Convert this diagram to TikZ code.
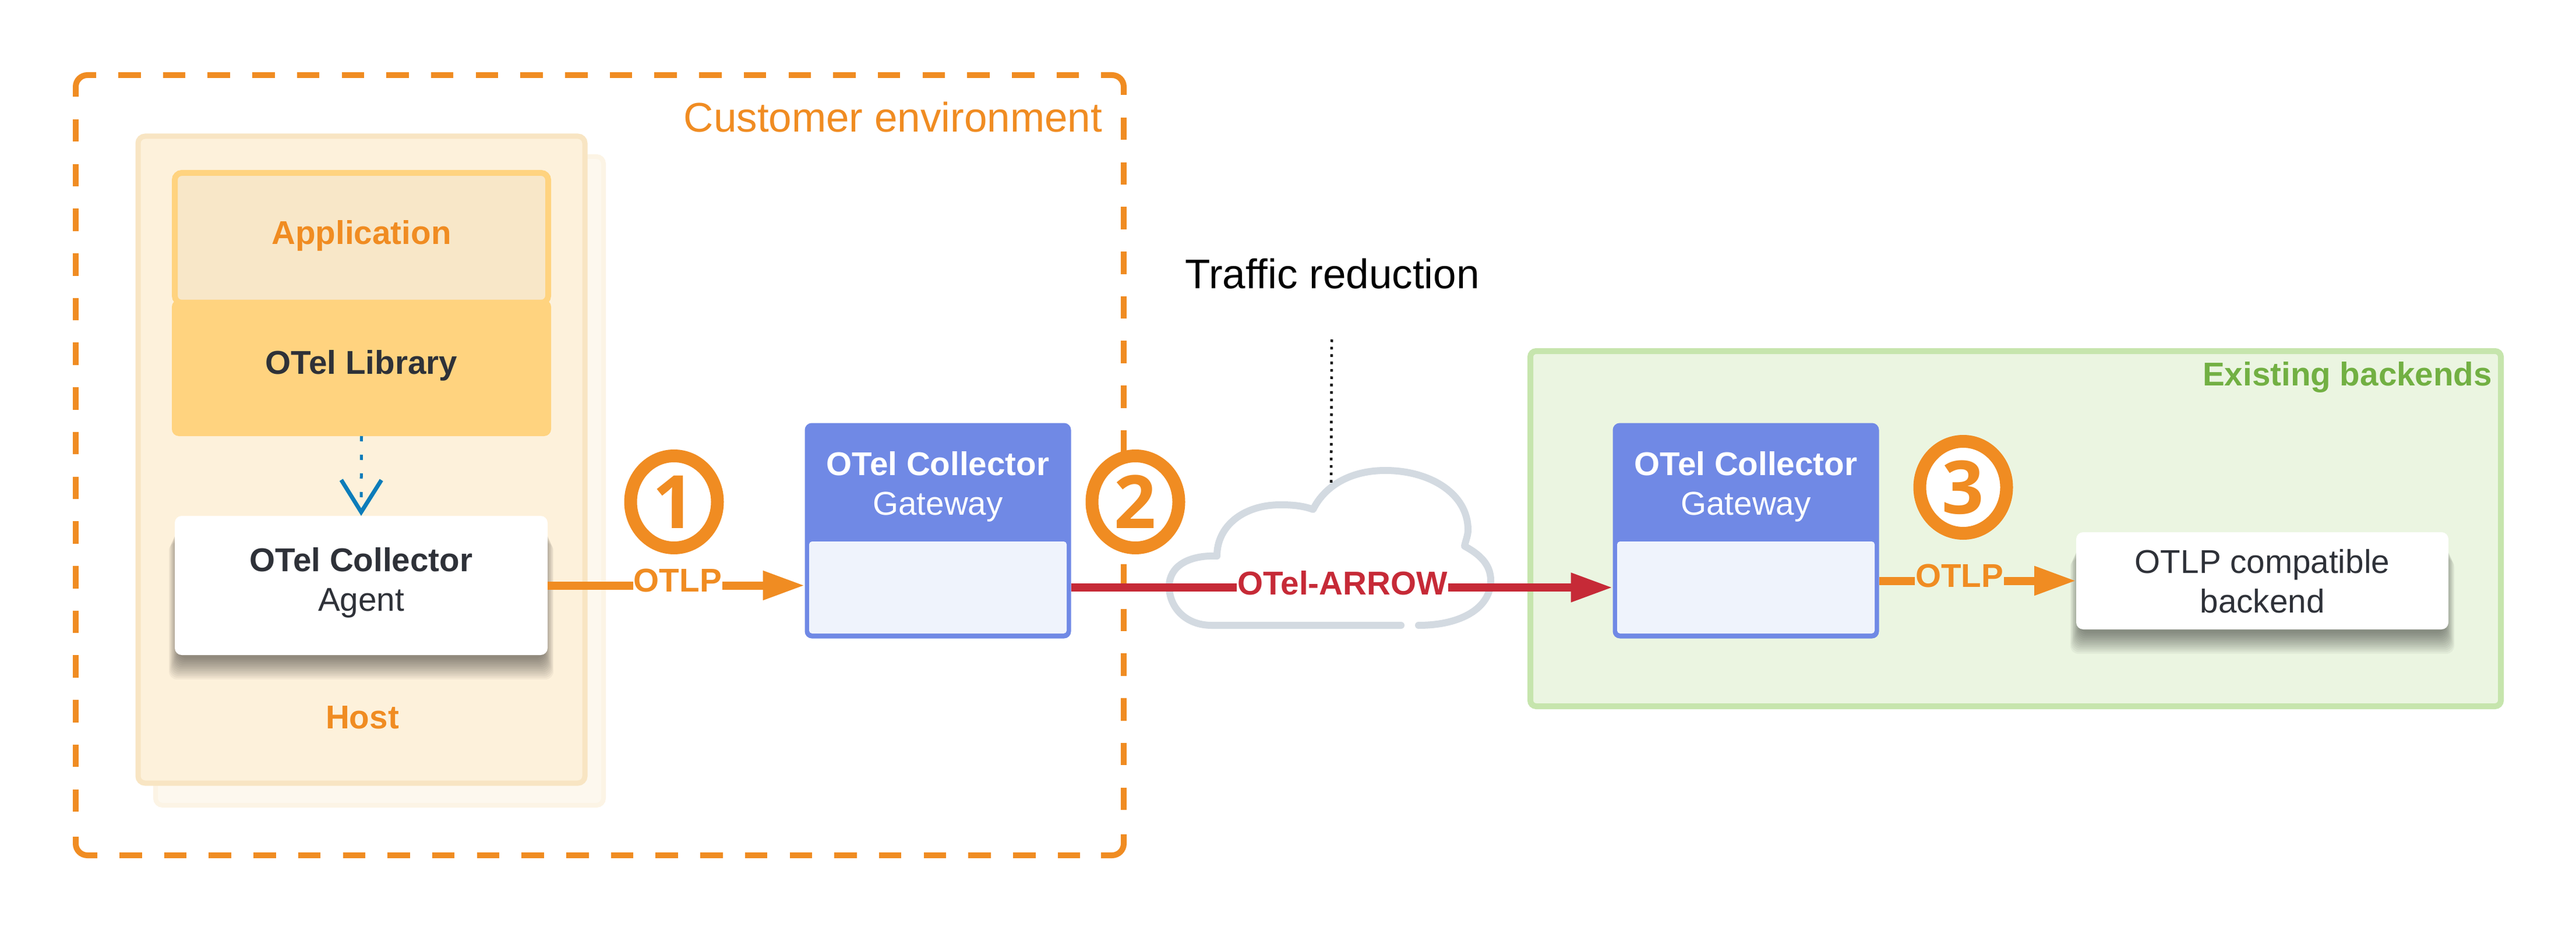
\documentclass[tikz,border=0pt]{standalone}
\usepackage{fontspec}
\setmainfont{Liberation Sans}
\newfontfamily\digitfont{Open Sans}
\usetikzlibrary{calc,arrows.meta,shapes.geometric}
\definecolor{otelorange}{HTML}{F08C22}
\definecolor{otelred}{HTML}{C62A37}
\definecolor{otelblue}{HTML}{7089E5}
\definecolor{otelpale}{HTML}{EFF3FC}
\definecolor{oteldark}{HTML}{2E3138}
\definecolor{hostfill}{HTML}{FDF1DB}
\definecolor{hostline}{HTML}{F8E5C3}
\definecolor{backfill}{HTML}{FDF8EE}
\definecolor{appfill}{HTML}{F8E7C8}
\definecolor{libfill}{HTML}{FFD37F}
\definecolor{greenfill}{HTML}{EBF5E1}
\definecolor{greenline}{HTML}{C6E5AD}
\definecolor{greentext}{HTML}{72B043}
\definecolor{cloudline}{HTML}{D3DAE1}
\definecolor{dotblue}{HTML}{0C7CBA}
\def\softshadow(#1)(#2:#3){\foreach \k in {0,0.03,...,0.36}{\fill[black, opacity=0.04, rounded corners=0.14cm] ($(#1)+({-#2/2-0.45*\k+0.06},{-#3/2-\k-0.06})$) rectangle ($(#1)+({#2/2+0.45*\k-0.06},{#3/2-0.1-\k})$);}}
\tikzset{
	txt/.style={font=\fontsize{16.1}{19.4}\selectfont, align=center, inner sep=0, outer sep=0},
	boldtxt/.style={txt, font=\fontsize{16.1}{19.4}\selectfont\bfseries},
	bigtxt/.style={txt, font=\fontsize{20.2}{24}\selectfont},
	panel/.style={rectangle, inner sep=0, outer sep=0, rounded corners=0.12cm},
	whitebox/.style={panel, fill=white},
	gatewaybox/.style={panel, fill=otelblue, minimum width=4.57cm, minimum height=3.7cm},
	gatewaybody/.style={panel, fill=otelpale, rounded corners=0.05cm, minimum width=4.42cm, minimum height=1.58cm},
	custline/.style={otelorange, line width=0.1cm},
	custdash/.style={custline, dash pattern=on 0.385cm off 0.382cm},
	numring/.style={ellipse, draw=otelorange, fill=white, line width=0.22cm, inner sep=0, outer sep=0, minimum width=1.49cm, minimum height=1.58cm, text=otelorange, font=\digitfont\bfseries\fontsize{36}{36}\selectfont},
	flow/.style={line width=0.14cm, -{Triangle[length=0.72cm,width=0.47cm]}},
	tag/.style={boldtxt, inner xsep=0.01cm, inner ysep=0.03cm, yshift=0.08cm}
}
\begin{document}
\begin{tikzpicture}
	%%%%% START %%%%%
	\path[use as bounding box, fill=white] (0, 0) rectangle (44.22, 15.98);

	% customer environment
	\draw[custline, rounded corners=0.2cm] (1.3, 14.32) -- (1.3, 14.69) -- (1.65, 14.69);
	\draw[custline, rounded corners=0.2cm] (18.9, 14.69) -- (19.29, 14.69) -- (19.29, 14.35);
	\draw[custline, rounded corners=0.2cm] (1.3, 1.61) -- (1.3, 1.29) -- (1.67, 1.29);
	\draw[custline, rounded corners=0.2cm] (19.29, 1.65) -- (19.29, 1.29) -- (18.9, 1.29);
	\draw[custdash] (2.03, 14.69) -- (18.52, 14.69);
	\draw[custdash] (2.05, 1.29) -- (18.54, 1.29);
	\draw[custdash] (1.3, 13.93) -- (1.3, 2.04);
	\draw[custdash] (19.29, 13.96) -- (19.29, 2.07);
	\node[bigtxt, text=otelorange, anchor=east] (customerlabel) at (18.92, 13.97) {Customer environment};

	\node[panel, fill=backfill, draw=backfill!80!hostline, line width=0.08cm, minimum width=7.69cm, minimum height=11.14cm] (hostback) at (6.515, 7.72) {};
	\node[panel, fill=hostfill, draw=hostline, line width=0.09cm, minimum width=7.67cm, minimum height=11.11cm] (host) at (6.205, 8.085) {};
	\node[boldtxt, text=otelorange] (hostlabel) at (6.22, 3.66) {Host};

	\node[panel, fill=appfill, draw=libfill, line width=0.1cm, minimum width=6.41cm, minimum height=2.23cm] (app) at (6.205, 11.895) {};
	\node[boldtxt, text=otelorange] (applabel) at (6.205, 11.93) {Application};
	\node[panel, fill=libfill, minimum width=6.51cm, minimum height=2.34cm] (lib) at (6.205, 9.66) {};
	\node[boldtxt, text=oteldark] (liblabel) at (6.205, 9.7) {OTel Library};

	\softshadow(6.2, 5.925)(6.4:2.39)
	\node[whitebox, minimum width=6.4cm, minimum height=2.39cm] (agent) at (6.2, 5.925) {};
	\node[txt, text=oteldark] (agentlabel) at (6.2, 5.97) {\textbf{OTel Collector}\\Agent};

	\draw[dotblue, line width=0.05cm, dash pattern=on 0.09cm off 0.23cm, -{Straight Barb[length=0.55cm,width=0.69cm,line width=0.07cm]}] (lib.south) -- (agent.north);

	\node[gatewaybox] (gatewayA) at (16.1, 6.865) {};
	\node[gatewaybody] (bodyA) at (16.1, 5.89) {};
	\node[txt, text=white] (labelA) at (16.1, 7.62) {\textbf{OTel Collector}\\Gateway};

	% cloud
	\draw[cloudline, line width=0.12cm, line cap=round, line join=round] (24.35, 5.24) .. controls (25.1, 5.24) and (25.59, 5.55) .. (25.59, 6.01) .. controls (25.59, 6.3) and (25.38, 6.47) .. (25.14, 6.6) .. controls (25.16, 6.7) and (25.2, 6.78) .. (25.2, 6.88) .. controls (25.2, 7.5) and (24.55, 7.9) .. (23.78, 7.9) .. controls (23.2, 7.9) and (22.75, 7.65) .. (22.54, 7.23) .. controls (22.35, 7.3) and (22.15, 7.31) .. (21.98, 7.31) .. controls (21.35, 7.31) and (20.89, 6.95) .. (20.89, 6.43) .. controls (20.4, 6.45) and (20.07, 6.25) .. (20.07, 5.91) .. controls (20.07, 5.55) and (20.35, 5.24) .. (20.8, 5.24) -- (24.05, 5.24);

	\node[bigtxt, text=black] (traffic) at (22.87, 11.28) {Traffic reduction};
	\coordinate (dottop) at (22.86, 10.15);
	\coordinate (cloudtop) at (22.85, 7.68);
	\draw[black, line width=0.045cm, dash pattern=on 0.045cm off 0.082cm] (dottop) -- (cloudtop);

	\node[panel, fill=greenfill, draw=greenline, line width=0.1cm, rounded corners=0.1cm, minimum width=16.66cm, minimum height=6.1cm] (backends) at (34.6, 6.9) {};
	\node[boldtxt, text=greentext, anchor=east] (backendslabel) at (42.78, 9.5) {Existing backends};

	\node[gatewaybox] (gatewayB) at (29.97, 6.865) {};
	\node[gatewaybody] (bodyB) at (29.97, 5.89) {};
	\node[txt, text=white] (labelB) at (29.97, 7.62) {\textbf{OTel Collector}\\Gateway};

	\softshadow(38.835, 6.005)(6.39:1.67)
	\node[whitebox, minimum width=6.39cm, minimum height=1.67cm] (backend) at (38.835, 6.005) {};
	\node[txt, text=oteldark] (backendlabel) at (38.835, 6.0) {OTLP compatible\\backend};

	\node[numring] (one) at (11.57, 7.36) {1};
	\node[numring] (two) at (19.49, 7.36) {2};
	\node[numring] (three) at (33.7, 7.61) {3};

	\draw[flow, otelorange] (agent.east) -- node[tag, fill=white, pos=0.506] (otlpA) {OTLP} (agent.east -| gatewayA.west);
	\draw[flow, otelred] (gatewayA.east |- bodyA.center) -- node[tag, fill=white, pos=0.501] (arrowtag) {OTel-ARROW} (gatewayB.west |- bodyA.center);
	\draw[flow, otelorange] (backend.west -| gatewayB.east) -- node[tag, fill=greenfill, pos=0.408] (otlpB) {OTLP} (backend.west);
	%%%%% END %%%%%
\end{tikzpicture}
\end{document}
